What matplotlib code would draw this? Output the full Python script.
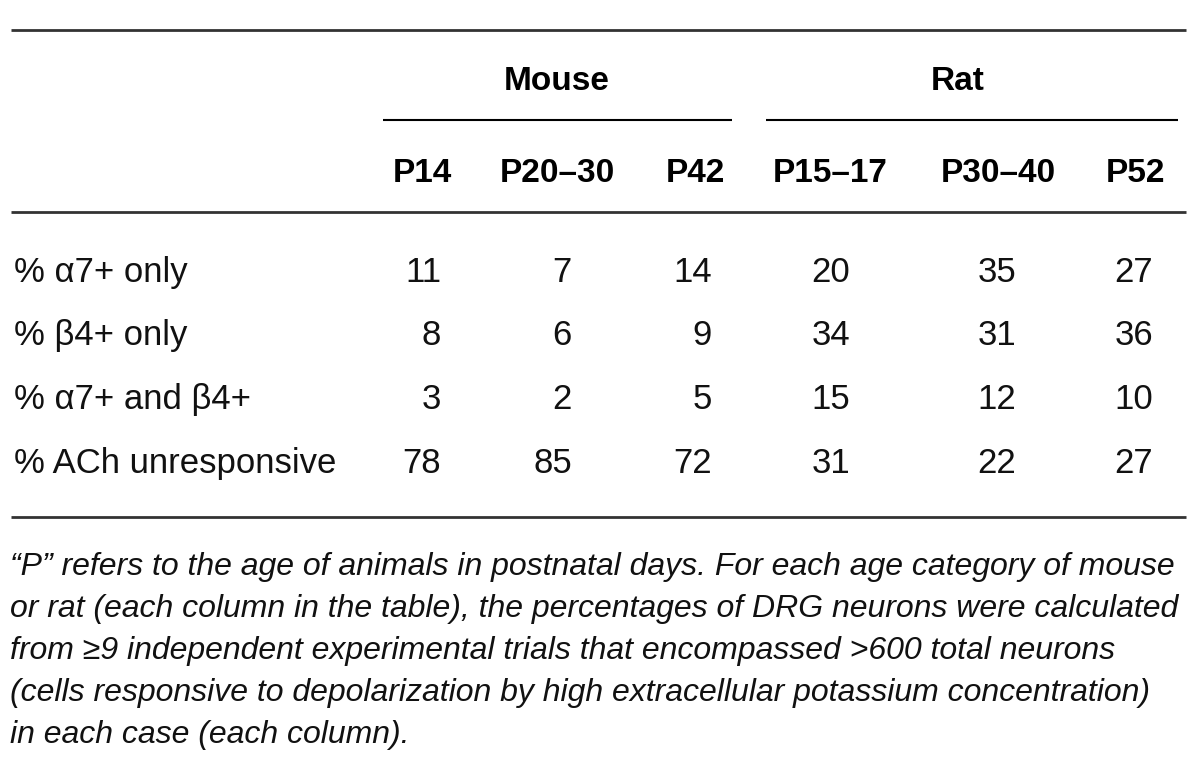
import matplotlib
matplotlib.use("Agg")
from matplotlib import pyplot as plt

plt.rcParams["font.family"] = ["Liberation Sans", "DejaVu Sans"]

# Table contents
species = ["Mouse", "Rat"]
ages = ["P14", "P20–30", "P42", "P15–17", "P30–40", "P52"]
row_labels = [
    "% α7+ only",
    "% β4+ only",
    "% α7+ and β4+",
    "% ACh unresponsive",
]
values = [
    [11, 7, 14, 20, 35, 27],
    [8, 6, 9, 34, 31, 36],
    [3, 2, 5, 15, 12, 10],
    [78, 85, 72, 31, 22, 27],
]
footnote = [
    "“P” refers to the age of animals in postnatal days. For each age category of mouse",
    "or rat (each column in the table), the percentages of DRG neurons were calculated",
    "from ≥9 independent experimental trials that encompassed >600 total neurons",
    "(cells responsive to depolarization by high extracellular potassium concentration)",
    "in each case (each column).",
]

# Layout in pixel coordinates (y values are text baselines)
col_x = [422, 557, 695, 830, 998, 1136]
num_right = [441, 572, 712, 850, 1016, 1153]
row_base = [282, 345, 409, 473]
species_x = [557, 958]
species_span = [(383, 732), (766, 1178)]
line_color = "#333333"

fig = plt.figure(figsize=(12, 7.57), dpi=100)
ax = fig.add_axes([0, 0, 1, 1])
ax.set_xlim(0, 1200)
ax.set_ylim(757, 0)
ax.axis("off")

# rules
for y in [30, 212, 517]:
    ax.plot([11, 1186], [y, y], color=line_color, lw=2, solid_capstyle="butt")
for x0, x1 in species_span:
    ax.plot([x0, x1], [120, 120], color="black", lw=1.5, solid_capstyle="butt")

# headers
for name, x in zip(species, species_x):
    ax.text(x, 90, name, ha="center", va="baseline", fontsize=24, fontweight="bold")
for age, x in zip(ages, col_x):
    ax.text(x, 182, age, ha="center", va="baseline", fontsize=24, fontweight="bold")

# body
for label, y, vals in zip(row_labels, row_base, values):
    ax.text(14, y, label, ha="left", va="baseline", fontsize=25, color="#111111")
    for v, x in zip(vals, num_right):
        ax.text(x, y, str(v), ha="right", va="baseline", fontsize=25, color="#111111")

# footnote
for i, line in enumerate(footnote):
    ax.text(10, 575 + 42 * i, line, ha="left", va="baseline", fontsize=23,
            style="italic", color="#111111")

fig.savefig("out.png", dpi=100)
